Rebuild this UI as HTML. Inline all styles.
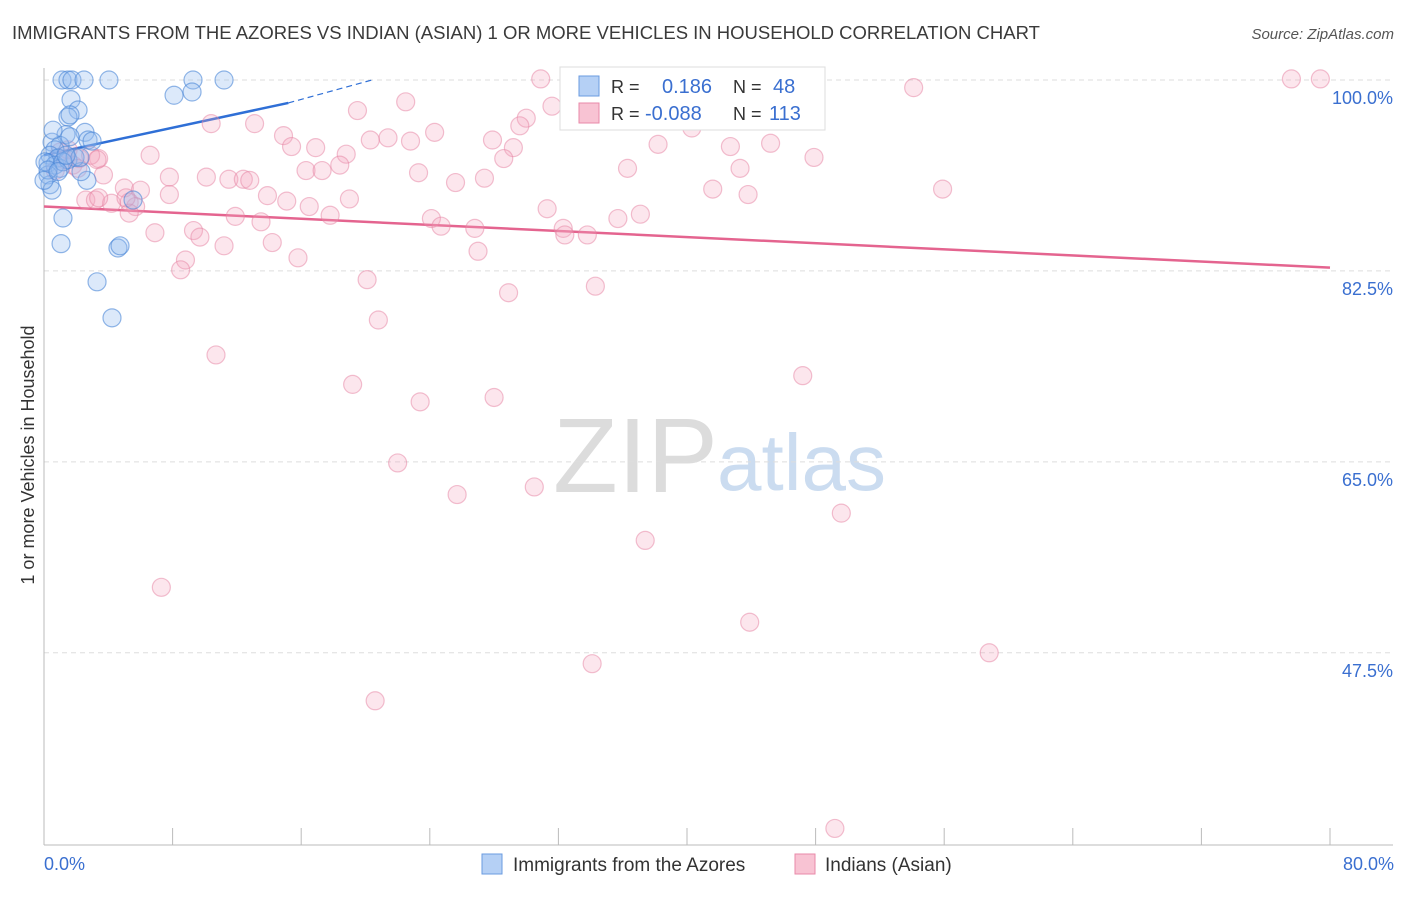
<!DOCTYPE html>
<html><head><meta charset="utf-8"><style>
body{margin:0;background:#fff;font-family:"Liberation Sans",sans-serif}
svg text{font-family:"Liberation Sans",sans-serif}
</style></head><body>
<svg id="chart" width="1406" height="892" xmlns="http://www.w3.org/2000/svg">
<text x="12" y="39" font-size="18.5" fill="#3a3a3a">IMMIGRANTS FROM THE AZORES VS INDIAN (ASIAN) 1 OR MORE VEHICLES IN HOUSEHOLD CORRELATION CHART</text>
<text x="1394" y="39" font-size="15" fill="#555" text-anchor="end" font-style="italic">Source: ZipAtlas.com</text>
<g>
<text x="553" y="492" font-size="106" fill="#dcdcdc" font-family="Liberation Serif,serif">ZIP</text>
<text x="717" y="490" font-size="80" fill="#cbdcf0">atlas</text>
</g>
<g id="grid"></g>
<g id="axes"></g>
<g id="lines"></g>
<g id="pts"></g>
<text transform="translate(34,455) rotate(-90)" font-size="18" fill="#333" text-anchor="middle">1 or more Vehicles in Household</text>
<g>
<rect x="560" y="67" width="265" height="63" fill="#fff" stroke="#ddd"/>
<rect x="579" y="76" width="20" height="20" fill="#b5d0f5" stroke="#6a9be0"/>
<text x="611" y="93" font-size="18" fill="#333">R =</text>
<text x="662" y="93" font-size="20" fill="#3a6fd0">0.186</text>
<text x="733" y="93" font-size="18" fill="#333">N =</text>
<text x="773" y="93" font-size="20" fill="#3a6fd0">48</text>
<rect x="579" y="103" width="20" height="20" fill="#f8c3d3" stroke="#e98aa8"/>
<text x="611" y="120" font-size="18" fill="#333">R =</text>
<text x="645" y="120" font-size="20" fill="#3a6fd0">-0.088</text>
<text x="733" y="120" font-size="18" fill="#333">N =</text>
<text x="769" y="120" font-size="20" fill="#3a6fd0">113</text>
</g>
<g>
<rect x="482" y="854" width="20" height="20" fill="#b5d0f5" stroke="#6a9be0"/>
<text x="513" y="871" font-size="19" fill="#333">Immigrants from the Azores</text>
<rect x="795" y="854" width="20" height="20" fill="#f8c3d3" stroke="#e98aa8"/>
<text x="825" y="871" font-size="19" fill="#333">Indians (Asian)</text>
</g>
</svg>
<script>
const blueX=[1.12,1.49,1.74,2.49,4.04,9.27,11.2,8.09,9.21,1.68,2.12,1.49,1.62,1.37,2.55,2.74,2.99,0.5,1.0,1.62,0.68,0.37,0.87,0.25,0.68,1.0,0.25,0.37,0.5,2.67,2.3,1.49,1.18,1.06,4.6,4.73,3.3,4.23,5.54,1.93,0.06,2.24,1.18,0.25,0,0.56,0.87,1.37];
const blueY=[100,100,100,100,100,100,100,98.6,98.9,98.2,97.25,96.6,96.8,95.0,95.2,94.5,94.4,94.3,94.0,94.8,93.6,93.1,92.85,92.4,92.2,91.9,91.3,90.4,89.9,90.8,91.6,92.7,87.35,85.0,84.6,84.8,81.5,78.2,89.0,92.9,92.5,92.9,92.5,91.75,90.8,95.4,91.6,93.1];
const pinkX=[30.9,46.1,46.8,77.6,79.4,54.1,22.5,19.5,31.6,30.0,29.6,10.4,13.1,21.4,22.8,24.3,27.9,14.9,15.4,16.9,18.8,29.2,28.6,38.2,40.3,42.7,45.2,47.9,36.3,43.3,16.3,17.3,23.3,25.6,27.4,6.6,3.4,3.7,7.8,10.1,11.5,12.4,12.8,5.0,6.0,7.8,13.9,15.1,19.0,16.5,41.6,43.8,55.9,2.6,3.2,4.2,5.3,5.7,5.3,11.9,13.5,17.8,24.1,24.7,26.8,31.3,32.3,32.4,35.7,37.1,6.9,9.3,9.7,11.2,14.2,8.8,8.5,15.8,27.0,20.1,28.9,34.3,20.8,10.7,19.2,23.4,28.0,47.2,22.0,25.7,30.5,49.6,37.4,7.3,43.9,34.1,58.8,20.6,49.2,1.3,1.8,2.2,2.9,1.0,0.7,1.5,2.1,3.4,5.1,20.3,18.4,33.8,3.3];
const pinkY=[100.1,100,100,100.1,100.1,99.3,98.0,97.2,97.6,96.5,95.8,96.0,96.0,94.7,94.4,95.2,94.5,94.9,93.9,93.8,93.2,93.8,92.8,94.1,95.6,93.9,94.2,92.9,91.9,91.9,91.7,91.7,91.5,90.6,91.0,93.1,92.8,91.3,91.1,91.1,90.9,90.9,90.8,90.1,89.9,89.5,89.4,88.9,89.1,88.4,90.0,89.5,90.0,89.0,89.0,88.7,88.8,88.4,87.8,87.5,87.0,87.6,87.3,86.6,86.4,88.2,86.4,85.8,87.3,87.7,86.0,86.2,85.6,84.8,85.1,83.5,82.6,83.7,84.3,81.7,80.5,81.1,78.0,74.8,72.1,70.5,70.9,72.9,64.9,62.0,62.7,60.3,57.8,53.5,50.3,46.5,47.5,43.1,31.4,92.7,92.2,92.8,93.1,93.4,91.7,93.6,91.9,89.2,89.2,94.5,92.2,85.8,92.7];
const yTicks=[100,82.5,65,47.5];
const yTickLabels=["100.0%","82.5%","65.0%","47.5%"];
const xTicks=[0,8,16,24,32,40,48,56,64,72,80];
const blueTrend=[[0,93.1],[15.2,97.9]];
const blueTrendDash=[[15.2,97.9],[20.4,100]];
const pinkTrend=[[0,88.4],[80,82.8]];

const NS="http://www.w3.org/2000/svg";
const sx=v=>44+v*16.075;
const sy=v=>80+(100-v)*10.91;
function mk(tag,attrs,parent){const e=document.createElementNS(NS,tag);for(const k in attrs)e.setAttribute(k,attrs[k]);document.getElementById(parent).appendChild(e);return e;}
yTicks.forEach((t,i)=>{
  const g=mk('line',{x1:44,x2:1393,y1:sy(t),y2:sy(t),stroke:'#ddd','stroke-dasharray':'5,4'},'grid');
  
  
  const l=mk('text',{x:1393,y:sy(t)+24,'font-size':18,fill:'#3a6fd0','text-anchor':'end'},'grid');
  l.textContent=yTickLabels[i];
  
  
});
const ax=mk('line',{x1:44,x2:44,y1:68,y2:845,stroke:'#bbb'},'axes');


const bx=mk('line',{x1:44,x2:1393,y1:845,y2:845,stroke:'#bbb'},'axes');


xTicks.forEach(t=>{
  const k=mk('line',{x1:sx(t),x2:sx(t),y1:828,y2:845,stroke:'#bbb'},'axes');
  
  
});
const x0=mk('text',{x:44,y:870,'font-size':18,fill:'#3a6fd0'},'axes');x0.textContent='0.0%';


const x1=mk('text',{x:1394,y:870,'font-size':18,fill:'#3a6fd0','text-anchor':'end'},'axes');x1.textContent='80.0%';


pinkX.forEach((v,i)=>{
  const c=mk('circle',{cx:sx(v),cy:sy(pinkY[i]),r:9,fill:'rgba(244,165,192,0.28)',stroke:'rgba(230,130,162,0.5)','stroke-width':1.2},'pts');
  
  
});
blueX.forEach((v,i)=>{
  const c=mk('circle',{cx:sx(v),cy:sy(blueY[i]),r:9,fill:'rgba(145,188,240,0.32)',stroke:'rgba(75,135,215,0.6)','stroke-width':1.2},'pts');
  
  
});
const bl=mk('line',{x1:sx(blueTrend[0][0]),y1:sy(blueTrend[0][1]),x2:sx(blueTrend[1][0]),y2:sy(blueTrend[1][1]),stroke:'#2f6fd6','stroke-width':2.5},'lines');


const bd=mk('line',{x1:sx(blueTrendDash[0][0]),y1:sy(blueTrendDash[0][1]),x2:sx(blueTrendDash[1][0]),y2:sy(blueTrendDash[1][1]),stroke:'#2f6fd6','stroke-width':1.2,'stroke-dasharray':'6,4'},'lines');


const pl=mk('line',{x1:sx(pinkTrend[0][0]),y1:sy(pinkTrend[0][1]),x2:sx(pinkTrend[1][0]),y2:sy(pinkTrend[1][1]),stroke:'#e4648f','stroke-width':2.5},'lines');


</script>
</body></html>
